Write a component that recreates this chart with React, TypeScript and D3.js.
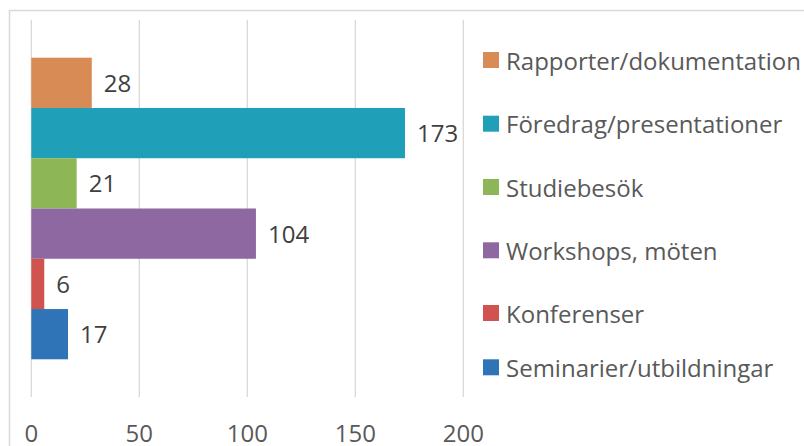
import React from "react";
import * as d3 from "d3";

// Data (top-to-bottom order as drawn)
const categories = [
  "Rapporter/dokumentation",
  "Föredrag/presentationer",
  "Studiebesök",
  "Workshops, möten",
  "Konferenser",
  "Seminarier/utbildningar",
];
const values = [28, 173, 21, 104, 6, 17];
const colors = ["#D98B55", "#1FA0B8", "#8DB657", "#8E69A1", "#D05350", "#2E74B6"];
const xTicks = [0, 50, 100, 150, 200];

// Layout
const W = 804;
const H = 446;
const plotLeft = 31.3;
const plotRight = 463.3;
const plotTop = 20;
const plotBottom = 397;
const legendX = 483;
const legendRowTops = [52, 115.7, 179, 242.3, 305, 359.3];
const FONT = "'Open Sans', 'Noto Sans', sans-serif";

export default function App() {
  const x = d3.scaleLinear().domain([0, 200]).range([plotLeft, plotRight]);
  const y = d3
    .scaleBand<string>()
    .domain(categories)
    .range([plotTop, plotBottom])
    .paddingInner(0)
    .paddingOuter(0.75);

  return (
    <svg
      width={W}
      height={H}
      style={{ position: "absolute", left: 0, top: 0, background: "#fff" }}
      fontFamily={FONT}
    >
      {/* outer chart border */}
      <rect x={9.5} y={10.5} width={W + 20} height={H + 20} fill="none" stroke="#d9d9d9" strokeWidth={1.5} />
      {/* gridlines */}
      {xTicks.map((t) => (
        <line key={t} x1={x(t)} x2={x(t)} y1={plotTop} y2={plotBottom} stroke="#d9d9d9" strokeWidth={1.3} />
      ))}
      {/* bars */}
      {categories.map((c, i) => (
        <g key={c}>
          <rect
            x={x(0)}
            y={y(c)!}
            width={x(values[i]) - x(0)}
            height={y.bandwidth()}
            fill={colors[i]}
          />
          <text
            x={x(values[i]) + 12}
            y={y(c)! + y.bandwidth() / 2 + 9}
            fontSize={24}
            fill="#404040"
          >
            {values[i]}
          </text>
        </g>
      ))}
      {/* x tick labels */}
      {xTicks.map((t) => (
        <text key={t} x={x(t)} y={442} fontSize={24} fill="#595959" textAnchor="middle">
          {t}
        </text>
      ))}
      {/* legend */}
      {categories.map((c, i) => (
        <g key={c} transform={`translate(${legendX},${legendRowTops[i]})`}>
          <rect x={0} y={0} width={16} height={16} fill={colors[i]} />
          <text x={23} y={17.5} fontSize={24} fill="#595959">
            {c}
          </text>
        </g>
      ))}
    </svg>
  );
}
